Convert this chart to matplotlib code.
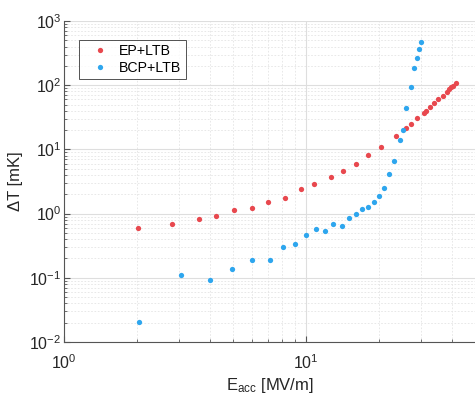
import matplotlib
matplotlib.use("Agg")
import matplotlib.pyplot as plt
from matplotlib.ticker import LogLocator, NullFormatter

plt.rcParams['font.family'] = ['Liberation Sans', 'DejaVu Sans']
plt.rcParams['mathtext.fontset'] = 'custom'
plt.rcParams['mathtext.rm'] = 'Liberation Sans'
plt.rcParams['mathtext.it'] = 'Liberation Sans'
plt.rcParams['mathtext.sf'] = 'Liberation Sans'

ep_x = [2.02, 2.79, 3.61, 4.26, 5.05, 5.97, 6.99, 8.23, 9.56, 10.82, 12.65, 14.26,
        16.05, 18.09, 20.41, 23.48, 25.89, 27.16, 28.84, 30.64, 31.33, 32.53, 33.8,
        35.28, 36.72, 38.24, 39.17, 39.83, 40.5, 41.56]
ep_y = [0.59, 0.68, 0.82, 0.91, 1.13, 1.24, 1.52, 1.78, 2.42, 2.94, 3.68, 4.56,
        5.99, 8.09, 10.9, 15.9, 21.9, 25.1, 30.8, 36.6, 39.9, 45.3, 52.8,
        60.3, 68.6, 78.4, 86.4, 92.1, 97.2, 107.0]

bcp_x = [2.05, 3.05, 4.0, 4.96, 5.97, 7.10, 8.06, 9.03, 10.03, 11.03, 12.02, 12.97,
         14.13, 15.06, 16.05, 17.09, 18.04, 19.05, 20.07, 21.01, 21.97, 23.1, 24.46,
         25.17, 25.97, 27.08, 28.03, 28.68, 29.23, 29.82]
bcp_y = [0.0207, 0.109, 0.0914, 0.137, 0.187, 0.189, 0.302, 0.336, 0.464, 0.575,
         0.536, 0.681, 0.648, 0.854, 0.986, 1.18, 1.28, 1.52, 1.91, 2.55, 4.18, 6.67,
         14.2, 19.7, 43.7, 94.8, 183.0, 268.0, 362.0, 471.0]

labels = ['EP+LTB', 'BCP+LTB']
colors = ['#e8484e', '#2ea6ee']

fig = plt.figure(figsize=(4.75, 3.95), dpi=100)
ax = fig.add_axes([64/475, 53/395, (475-64)/475, (342-21)/395])

ax.plot(ep_x, ep_y, 'o', color=colors[0], markersize=3.8, markeredgewidth=0,
        label=labels[0], zorder=3)
ax.plot(bcp_x, bcp_y, 'o', color=colors[1], markersize=3.8, markeredgewidth=0,
        label=labels[1], zorder=3)

ax.set_xscale('log')
ax.set_yscale('log')
ax.set_xlim(1, 50)
ax.set_ylim(1e-2, 1e3)

ax.xaxis.set_minor_locator(LogLocator(base=10, subs=range(2, 10), numticks=20))
ax.yaxis.set_minor_locator(LogLocator(base=10, subs=range(2, 10), numticks=20))
ax.xaxis.set_minor_formatter(NullFormatter())
ax.yaxis.set_minor_formatter(NullFormatter())

ax.grid(True, which='major', color='#dedede', linewidth=0.8, linestyle='-')
ax.grid(True, which='minor', color='#e4e4e4', linewidth=0.6, linestyle=(0, (2, 2)))
ax.set_axisbelow(True)

for s in ['top', 'right']:
    ax.spines[s].set_visible(False)
for s in ['left', 'bottom']:
    ax.spines[s].set_color('#555555')
    ax.spines[s].set_linewidth(0.8)

ax.tick_params(which='both', direction='in', colors='#555555', labelcolor='#262626',
               labelsize=11.5)
ax.tick_params(which='major', length=4)
ax.tick_params(which='minor', length=2)
ax.tick_params(axis='x', pad=8)
ax.tick_params(axis='y', pad=2)

ax.set_xlabel('E$_{acc}$ [MV/m]', fontsize=12, color='#262626', labelpad=3)
ax.set_ylabel('ΔT [mK]', fontsize=12, color='#262626', labelpad=4)

leg = ax.legend(loc='upper left', bbox_to_anchor=(15/411, 1 - (40-21)/321),
                fontsize=10.2, frameon=True, fancybox=False, edgecolor='#262626',
                handlelength=2.3, handletextpad=0.25, borderpad=0.3, labelspacing=0.2,
                borderaxespad=0)
leg.get_frame().set_linewidth(0.7)

fig.savefig('out.png', dpi=100)
